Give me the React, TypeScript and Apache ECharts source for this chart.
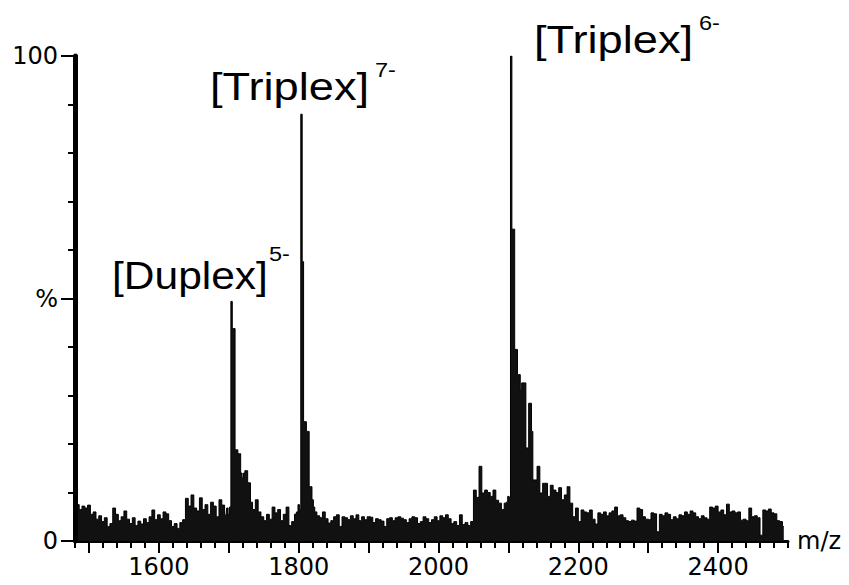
import React, { useEffect, useRef } from "react";
import * as echarts from "echarts";

// Relative intensity (%), grouped by m/z segment.
// lowNoise: m/z 1480–1696, every 4
const lowNoise = [
  7, 7.5, 6.5, 7.2, 6.8, 7.4, 5.5, 6, 4.5, 5.2,
  4, 4.8, 3, 3.6, 6.8, 5.5, 4.2, 5, 6.2, 4.5,
  3.6, 4.8, 3.2, 4.1, 3.5, 4.6, 3.8, 5, 6.4, 4.4,
  5.4, 4.6, 6, 5.6, 4.2, 3, 3.6, 2.6, 3.8, 4.4,
  8.8, 7.2, 9.5, 6.8, 6.2, 8.9, 6.5, 7.5, 5.5, 8,
  7.2, 5, 8.5, 7.4, 5.3,
];
// duplexPeak: m/z 1698–1730, every 2
const duplexPeak = [6.8, 5.5, 7, 49.4, 43.8, 43.8, 18.8, 18.8, 18, 18, 14, 13, 14, 14.5, 14.5, 12, 12];
// midNoise1: m/z 1732–1796, every 4
const midNoise1 = [8, 6.5, 8.5, 6, 5, 4.2, 5.5, 4.5, 7, 5.8, 6.5, 4.2, 5.5, 7, 3.2, 4, 5.5];
// triplex7Peak: m/z 1798–1822, every 2
const triplex7Peak = [6, 7.5, 6.5, 88, 57.6, 24.6, 24.6, 22.6, 22.6, 11.2, 11.2, 8.5, 7];
// midNoise2: m/z 1824–2096, every 4
const midNoise2 = [
  6, 5.2, 4.8, 6, 4.6, 3.7, 4.2, 5, 5.4, 3,
  5, 4.8, 4.4, 5.2, 4.6, 5.4, 4.2, 5, 4.4, 5,
  4.9, 3.8, 4.6, 4.4, 4.1, 3, 4.6, 4.8, 4.2, 4.8,
  5, 4.7, 4.4, 3.8, 4.6, 5, 4.8, 3.6, 4, 5,
  4.6, 3.8, 4.4, 5, 4.2, 5.2, 4.8, 5.4, 4.6, 3.6,
  4, 3.2, 5.4, 3.4, 3.8, 3.2, 4, 10.5, 9, 15.4,
  9.9, 10.5, 10, 9.2, 10.5, 8.4, 7.8, 6.5, 7.8,
];
// triplex6Peak: m/z 2098–2150, every 2
const triplex6Peak = [
  8, 9.2, 9, 100, 64.3, 64.3, 39.5, 39.5, 34.3, 34.3,
  31.2, 32.6, 32.6, 32.6, 19.2, 19.2, 28.4, 28.4, 22.6, 12.6,
  12.6, 12.6, 15.4, 15.4, 9.9, 9.9, 11.9,
];
// highNoise: m/z 2154–2494, every 4
const highNoise = [
  11.9, 9.2, 11.5, 10.5, 10, 11, 8.5, 9.5, 11.2, 7.8,
  5, 6.8, 4, 6.4, 6, 5.8, 6.4, 4.5, 3.5, 5.8,
  5.5, 6, 5.2, 5.8, 6.2, 7, 5.2, 5.4, 4.8, 4.2,
  4, 4.3, 4.1, 6.8, 6.5, 5, 4.5, 4.4, 5.8, 5.6,
  1.9, 5.5, 5.2, 5.8, 5.5, 4.4, 5, 4.6, 5.4, 5.2,
  6, 5.5, 6.2, 5.8, 5, 4.6, 5.2, 4.8, 4.5, 7,
  6.8, 7.2, 6, 6.4, 5.4, 7.6, 6, 6.2, 5.8, 6,
  4.3, 4.5, 4.2, 6.8, 5, 5.2, 4.8, 1.2, 6.4, 6.2,
  6.6, 5.8, 5.6, 4.2, 4, 3,
];

// [start m/z, spacing, values]
const segments: [number, number, number[]][] = [
  [1480, 4, lowNoise],
  [1698, 2, duplexPeak],
  [1732, 4, midNoise1],
  [1798, 2, triplex7Peak],
  [1824, 4, midNoise2],
  [2098, 2, triplex6Peak],
  [2154, 4, highNoise],
];

const xLabelTicks = [1600, 1800, 2000, 2200, 2400];
const xMajorTicks = [1500, 1600, 1700, 1800, 1900, 2000, 2100, 2200, 2300, 2400];
const xMinorTicks: number[] = [];
for (let v = 1480; v <= 2500; v += 20) xMinorTicks.push(v);
const yLabelTicks = [0, 50, 100];
const yMinorTicks = [0, 10, 20, 30, 40, 50, 60, 70, 80, 90, 100];

const annotations = [
  { main: "[Duplex]", sup: "5-" },
  { main: "[Triplex]", sup: "7-" },
  { main: "[Triplex]", sup: "6-" },
];

const TICK_FONT = '"DejaVu Sans", sans-serif';
const ANN_FONT = '"Liberation Sans", Arial, sans-serif';

export default function App() {
  const ref = useRef<HTMLDivElement>(null);
  useEffect(() => {
    if (!ref.current) return;
    const chart = echarts.init(ref.current, null, { renderer: "svg" });
    const data = segments.flatMap(([s, st, vals]) => vals.map((v, i) => [s + i * st, v]));
    const annPos = [
      { x: 112, y: 276, s: 1.09, sx: 269, sy: 254 },
      { x: 210, y: 87, s: 1.16, sx: 375, sy: 70 },
      { x: 534, y: 40, s: 1.16, sx: 699, sy: 23 },
    ];
    const graphics: any[] = [];
    annotations.forEach((a, i) => {
      const p = annPos[i];
      graphics.push({
        type: "text",
        x: p.x,
        y: p.y,
        scaleX: p.s,
        style: { text: a.main, fontFamily: ANN_FONT, fontSize: 39, fill: "#000", align: "left", verticalAlign: "middle" },
      });
      graphics.push({
        type: "text",
        x: p.sx,
        y: p.sy,
        scaleX: 1.12,
        style: { text: a.sup, fontFamily: ANN_FONT, fontSize: 21, fill: "#000", align: "left", verticalAlign: "middle" },
      });
    });
    const tickFmt = (v: number) => String(v);
    chart.setOption({
      animation: false,
      backgroundColor: "#fff",
      grid: { left: 75, right: 61, top: 56, bottom: 44, containLabel: false },
      xAxis: [
        {
          type: "value",
          min: 1480,
          max: 2500,
          position: "bottom",
          axisLine: { show: true, onZero: false, lineStyle: { color: "#000", width: 3 } },
          axisTick: { show: true, customValues: xMajorTicks, length: 12, lineStyle: { color: "#000", width: 2 } },
          axisLabel: { customValues: xLabelTicks, formatter: tickFmt, fontFamily: TICK_FONT, fontSize: 24, color: "#000", margin: 14 },
          splitLine: { show: false },
          name: "m/z",
          nameLocation: "end",
          nameGap: 9,
          nameTextStyle: { fontFamily: TICK_FONT, fontSize: 24, color: "#000", verticalAlign: "middle" },
        },
        {
          type: "value",
          min: 1480,
          max: 2500,
          position: "bottom",
          axisLine: { show: false, onZero: false },
          axisTick: { show: true, customValues: xMinorTicks, length: 7, lineStyle: { color: "#000", width: 2 } },
          axisLabel: { show: false },
          splitLine: { show: false },
        },
      ],
      yAxis: [
        {
          type: "value",
          min: 0,
          max: 100,
          position: "left",
          axisLine: { show: true, onZero: false, lineStyle: { color: "#000", width: 5 } },
          axisTick: { show: true, customValues: yMinorTicks, length: 7, lineStyle: { color: "#000", width: 2 } },
          axisLabel: {
            customValues: yLabelTicks,
            formatter: (v: number) => (v === 50 ? "%" : String(v)),
            fontFamily: TICK_FONT,
            fontSize: 24,
            color: "#000",
            margin: 17,
          },
          splitLine: { show: false },
          z: 5,
        },
        {
          type: "value",
          min: 0,
          max: 100,
          position: "left",
          axisLine: { show: false, onZero: false },
          axisTick: { show: true, customValues: yLabelTicks, length: 14, lineStyle: { color: "#000", width: 2 } },
          axisLabel: { show: false },
          splitLine: { show: false },
          z: 5,
        },
      ],
      series: [
        {
          type: "line",
          xAxisIndex: 0,
          yAxisIndex: 0,
          data,
          step: "middle",
          showSymbol: false,
          symbol: "none",
          lineStyle: { color: "#000", width: 1 },
          areaStyle: { color: "#111", opacity: 1 },
          z: 1,
        },
      ],
      graphic: graphics,
    });
    return () => chart.dispose();
  }, []);
  return (
    <div
      ref={ref}
      style={{ position: "absolute", left: 0, top: 0, width: 849, height: 585, background: "#fff" }}
    />
  );
}
